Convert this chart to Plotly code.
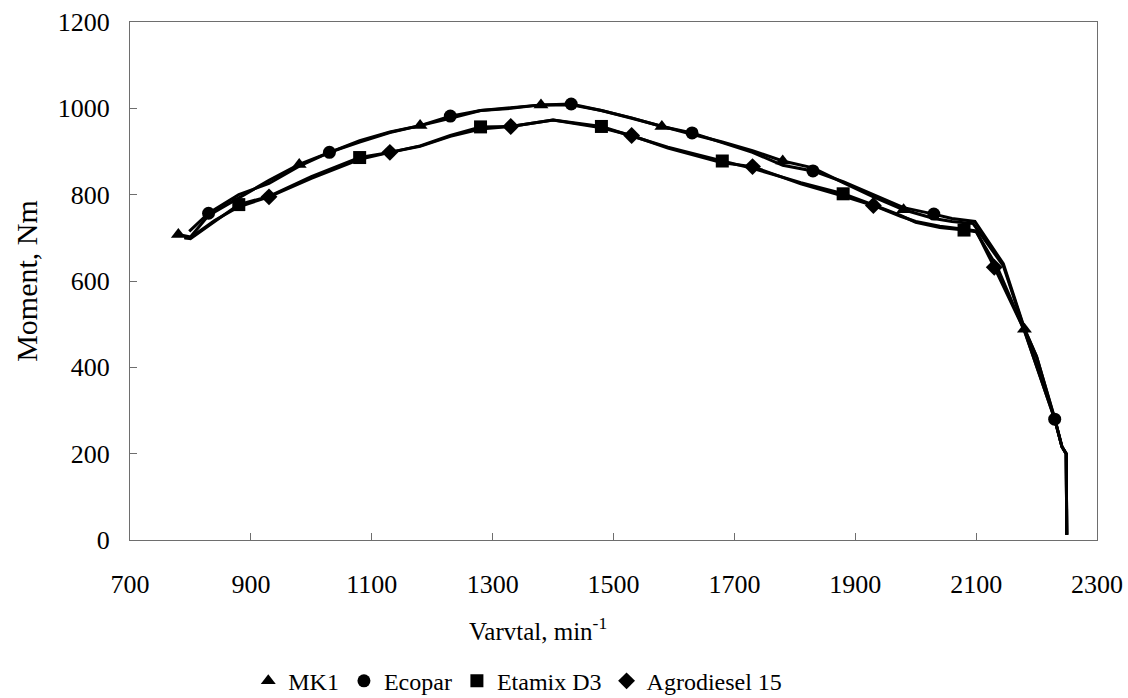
import plotly.graph_objects as go

# engine speed (min^-1) and torque (Nm)
mk1_x = [780, 800, 830, 880, 930, 980, 1030, 1080, 1130, 1180, 1230, 1280, 1330, 1380,
         1430, 1480, 1530, 1580, 1630, 1680, 1730, 1780, 1830, 1880, 1930, 1980, 2030,
         2060, 2095, 2145, 2180, 2200, 2230, 2242, 2249, 2250]
mk1_y = [708, 702, 752, 792, 833, 870, 897, 925, 945, 960, 977, 995, 1000, 1008,
         1008, 995, 977, 958, 940, 922, 902, 878, 862, 828, 795, 765, 745,
         738, 733, 635, 488, 425, 282, 216, 200, 12]
mk1_marks = [780, 980, 1180, 1380, 1580, 1780, 1980, 2180]

ecopar_x = [798, 830, 880, 930, 980, 1030, 1080, 1130, 1180, 1230, 1280, 1330, 1380,
            1430, 1480, 1530, 1580, 1630, 1680, 1730, 1780, 1830, 1880, 1930, 1980, 2030,
            2060, 2098, 2145, 2180, 2200, 2230, 2242, 2249, 2250]
ecopar_y = [715, 757, 800, 826, 866, 898, 922, 944, 960, 982, 995, 1002, 1008,
            1010, 995, 978, 958, 943, 920, 898, 868, 855, 830, 800, 770, 755,
            745, 738, 640, 490, 425, 280, 216, 200, 12]
ecopar_marks = [830, 1030, 1230, 1430, 1630, 1830, 2030, 2230]

etamix_x = [790, 800, 840, 880, 930, 1000, 1080, 1130, 1180, 1230, 1280, 1330, 1400,
            1480, 1530, 1590, 1680, 1730, 1810, 1880, 1930, 1975, 2000, 2040, 2080,
            2100, 2135, 2180, 2230, 2242, 2249, 2250]
etamix_y = [700, 698, 738, 777, 796, 842, 886, 898, 913, 937, 957, 958, 973,
            958, 936, 910, 878, 861, 828, 802, 776, 752, 736, 724, 718,
            714, 632, 484, 280, 216, 200, 12]
etamix_marks = [880, 1080, 1280, 1480, 1680, 1880, 2080]

agro_x = [790, 800, 840, 880, 930, 1000, 1080, 1130, 1180, 1230, 1280, 1330, 1400,
          1480, 1530, 1590, 1680, 1730, 1810, 1880, 1930, 1975, 2000, 2040, 2080,
          2100, 2130, 2180, 2230, 2242, 2249, 2250]
agro_y = [700, 700, 740, 772, 795, 838, 882, 898, 912, 935, 952, 958, 973,
          955, 937, 908, 874, 865, 825, 797, 775, 750, 738, 727, 720,
          716, 632, 485, 280, 216, 200, 12]
agro_marks = [930, 1130, 1330, 1530, 1730, 1930, 2130]

series = [
    ("MK1", mk1_x, mk1_y, mk1_marks, "triangle-up"),
    ("Ecopar", ecopar_x, ecopar_y, ecopar_marks, "circle"),
    ("Etamix D3", etamix_x, etamix_y, etamix_marks, "square"),
    ("Agrodiesel 15", agro_x, agro_y, agro_marks, "diamond"),
]

FONT = "Liberation Serif"
AXIS_GREY = "#6e6e6e"

fig = go.Figure()

for name, xs, ys, marks, symbol in series:
    fig.add_trace(go.Scatter(
        x=xs, y=ys, mode="lines",
        line=dict(color="black", width=3),
        showlegend=False, hoverinfo="skip"
    ))
    lookup = dict(zip(xs, ys))
    fig.add_trace(go.Scatter(
        x=marks, y=[lookup[m] for m in marks], mode="markers",
        marker=dict(symbol=symbol, color="black", size=13),
        name=name
    ))

fig.update_layout(
    width=1128, height=698,
    paper_bgcolor="white", plot_bgcolor="white",
    margin=dict(l=130, r=31, t=22, b=158),
    font=dict(family=FONT, size=25, color="black"),
    legend=dict(
        orientation="h", xref="paper", x=0.401, xanchor="center",
        yref="container", y=0.024, yanchor="middle",
        font=dict(family=FONT, size=24), itemwidth=30, tracegroupgap=0
    )
)
fig.update_xaxes(
    range=[700, 2300], tickvals=list(range(700, 2301, 200)),
    showgrid=False, zeroline=False, automargin=False,
    showline=True, linecolor=AXIS_GREY, linewidth=1, mirror=True,
    ticks="inside", ticklen=7, tickcolor=AXIS_GREY,
    tickfont=dict(family=FONT, size=26), ticklabelstandoff=21
)
fig.update_yaxes(
    range=[0, 1200], tickvals=list(range(0, 1201, 200)),
    showgrid=False, zeroline=False, automargin=False,
    showline=True, linecolor=AXIS_GREY, linewidth=1, mirror=True,
    ticks="inside", ticklen=7, tickcolor=AXIS_GREY,
    tickfont=dict(family=FONT, size=26), ticklabelstandoff=14,
    title=dict(text="Moment, Nm", standoff=11)
)

# x title sits left of the plot centre in the reference, so place it directly
fig.add_annotation(
    text="Varvtal, min<sup>-1</sup>", xref="paper", yref="paper",
    x=0.422, y=-0.172, xanchor="center", yanchor="middle",
    showarrow=False, font=dict(family=FONT, size=25)
)

# the page body has a default 8px margin; drop it so the figure sits at the corner
fig.write_html("out.html", config={"displayModeBar": False},
               post_script="document.body.style.margin = '0';")
